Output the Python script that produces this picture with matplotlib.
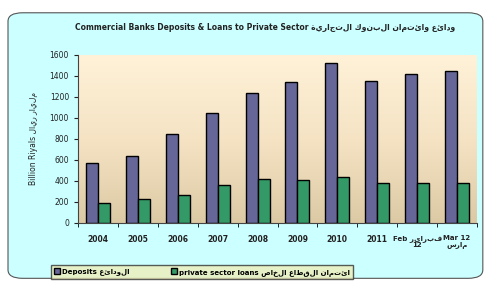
import matplotlib
matplotlib.use("Agg")
import matplotlib.pyplot as plt
import numpy as np
from matplotlib.patches import FancyBboxPatch, Patch
from matplotlib.colors import LinearSegmentedColormap

periods = ["2004", "2005", "2006", "2007", "2008", "2009", "2010", "2011",
           "Feb فبراير\n12", "Mar 12\nمارس"]
deposits = [572, 640, 850, 1050, 1235, 1345, 1525, 1355, 1418, 1450]
loans = [191, 225, 265, 360, 420, 410, 438, 376, 376, 376]


def ar(s):
    # reverse Arabic runs so they read right-to-left (no bidi in matplotlib)
    out = []
    for line in s.split("\n"):
        words = line.split(" ")
        res, run = [], []
        for wd in words:
            if any('\u0600' <= c <= '\u06ff' for c in wd):
                run.append(wd)
            else:
                if run:
                    res.append(" ".join(run)[::-1])
                    run = []
                res.append(wd)
        if run:
            res.append(" ".join(run)[::-1])
        out.append(" ".join(res))
    return "\n".join(out)


plt.rcParams['font.family'] = ['DejaVu Sans']
fig = plt.figure(figsize=(4.87, 2.84), dpi=100)
fig.patch.set_facecolor("white")

# rounded panel
panel = FancyBboxPatch((8 / 487, 0.02), 0.975, 0.935, boxstyle="round,pad=0,rounding_size=0.03",
                       transform=fig.transFigure, facecolor="#ccffff", edgecolor="#555555",
                       linewidth=0.8, zorder=-5)
fig.patches.append(panel)

ax = fig.add_axes([78 / 487, 1 - 222.7 / 284, (477 - 78) / 487, 167.7 / 284])
ax.set_facecolor("none")
ax.set_zorder(2)

x = np.arange(len(periods))
w = 0.3
# gradient background
grad = np.linspace(0, 1, 256).reshape(-1, 1)
cmap = LinearSegmentedColormap.from_list("bg", ["#fff2d8", "#f5e3c4", "#dccaa5"])
ax.imshow(grad, aspect="auto", cmap=cmap, extent=[-0.5, len(periods) - 0.5, 0, 1600],
          origin="upper", zorder=0)

ax.bar(x - w / 2, deposits, w, color="#666699", edgecolor="black", linewidth=1.0, zorder=2)
ax.bar(x + w / 2, loans, w, color="#339966", edgecolor="black", linewidth=1.0, zorder=2)

ax.set_xlim(-0.5, len(periods) - 0.5)
ax.set_ylim(0, 1600)
ax.set_yticks(range(0, 1601, 200))
ax.set_xticks(x)
ax.set_xticklabels([ar(p) for p in periods], fontsize=5.5, fontweight="bold", color="#222222",
                   va="top", linespacing=1.0)
for lab in ax.get_xticklabels()[8:]:
    lab.set_fontsize(5)
ax.set_xticks(np.arange(-0.5, len(periods)), minor=True)
ax.tick_params(axis="x", which="major", length=0, pad=9)
ax.tick_params(axis="x", which="minor", length=3, direction="out")
ax.tick_params(axis="y", labelsize=5.5, length=3, direction="out", colors="#222222")
for s in ["top", "right"]:
    ax.spines[s].set_visible(False)
ax.spines["left"].set_color("#444444")
ax.spines["bottom"].set_color("#444444")

ax.set_ylabel(ar("Billion Riyals مليار ريال"), fontsize=5.5, color="#222222", labelpad=8)

fig.text(265 / 487, 1 - 28 / 284,
         ar("Commercial Banks Deposits & Loans to Private Sector ودائع وائتمان البنوك التجارية"),
         ha="center", va="center", fontsize=5.5, fontweight="bold", color="#222222")

# legend
handles = [Patch(facecolor="#666699", edgecolor="black", label=ar("Deposits الودائع")),
           Patch(facecolor="#339966", edgecolor="black",
                 label=ar("private sector loans ائتمان القطاع الخاص"))]
leg = fig.legend(handles=handles, loc="center", bbox_to_anchor=(202 / 487, 1 - 272 / 284),
                 ncol=2, fontsize=5, frameon=True, fancybox=False, handlelength=0.8,
                 handleheight=0.8, handletextpad=0.3, columnspacing=6, borderpad=0.45)
leg.get_frame().set_facecolor("#eeeebb")
leg.get_frame().set_edgecolor("#333333")
for t in leg.get_texts():
    t.set_fontweight("bold")

fig.savefig("out.png", dpi=100, facecolor=fig.get_facecolor())
